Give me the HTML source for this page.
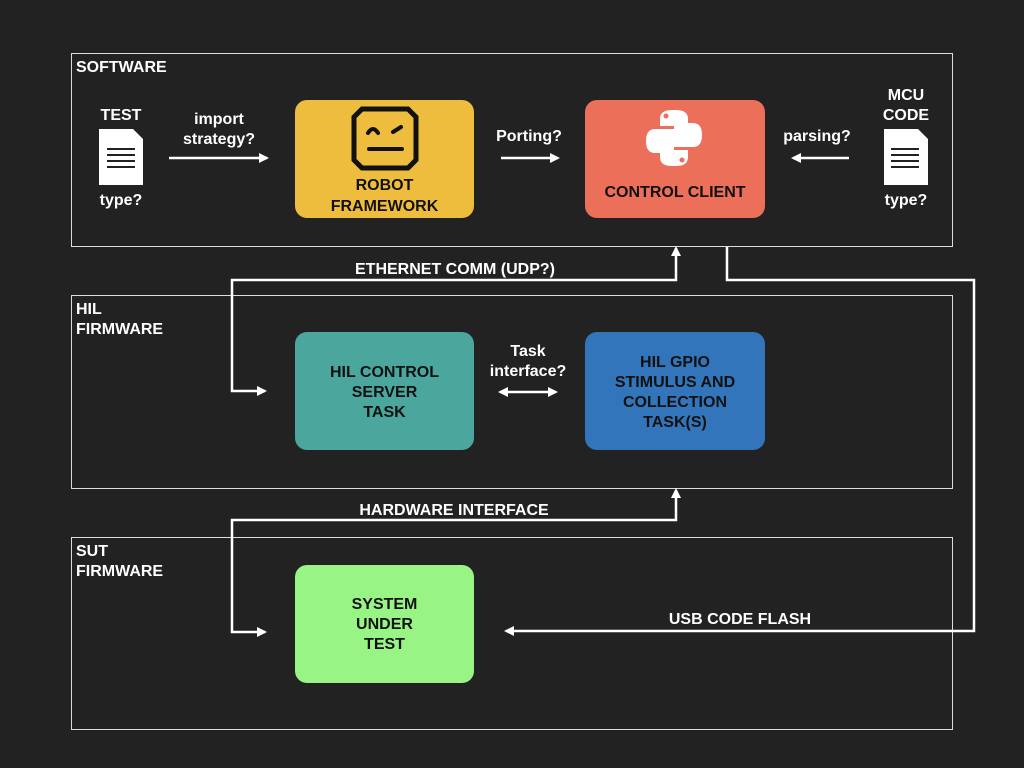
<!DOCTYPE html>
<html><head><meta charset="utf-8"><style>
html,body{margin:0;padding:0;background:#222222;}
svg{display:block}
text{font-family:"Liberation Sans",sans-serif;font-weight:bold;font-size:16px;}
.w{fill:#fff}
.k{fill:#111}
</style></head><body>
<svg width="1024" height="768" viewBox="0 0 1024 768">
<defs>
<marker id="a" markerWidth="10" markerHeight="10" refX="8" refY="5" orient="auto-start-reverse" markerUnits="userSpaceOnUse"><path d="M0,0 L10,5 L0,10 z" fill="#fff"/></marker>
</defs>
<g fill="none" stroke="#ddd" stroke-width="1">
<rect x="71.5" y="53.5" width="881" height="193"/>
<rect x="71.5" y="295.5" width="881" height="193"/>
<rect x="71.5" y="537.5" width="881" height="192"/>
</g>
<text class="w" x="76" y="72">SOFTWARE</text>
<text class="w" x="76" y="314">HIL</text>
<text class="w" x="76" y="334">FIRMWARE</text>
<text class="w" x="76" y="556">SUT</text>
<text class="w" x="76" y="576">FIRMWARE</text>

<rect x="295" y="100" width="179" height="118" rx="12" fill="#EFBD3E"/>
<rect x="585" y="100" width="180" height="118" rx="12" fill="#EC6F5A"/>
<rect x="295" y="332" width="179" height="118" rx="12" fill="#4BA79E"/>
<rect x="585" y="332" width="180" height="118" rx="12" fill="#3375BA"/>
<rect x="295" y="565" width="179" height="118" rx="12" fill="#99F486"/>

<!-- robot icon -->
<path d="M362,109 L408,109 L416,117 L416,160 L408,168 L362,168 L354,160 L354,117 Z" fill="none" stroke="#111" stroke-width="5"/>
<path d="M368,133 Q373,125 378,133" fill="none" stroke="#111" stroke-width="4" stroke-linecap="round"/>
<line x1="393" y1="132" x2="401" y2="127" stroke="#111" stroke-width="4" stroke-linecap="round"/>
<line x1="369" y1="149" x2="402" y2="149" stroke="#111" stroke-width="4" stroke-linecap="round"/>
<text class="k" x="384.5" y="190" text-anchor="middle">ROBOT</text>
<text class="k" x="384.5" y="211" text-anchor="middle">FRAMEWORK</text>

<!-- python icon -->
<path d="M672,110 Q660,110 660,119 L660,126 L674,126 L674,129 L655,129 Q646,129 646,141 Q646,153 655,153 L660,153 L660,146 Q660,139 668,139 L681,139 Q688,139 688,132 L688,119 Q688,110 676,110 Z" fill="#fff"/>
<path d="M676,166 Q688,166 688,157 L688,150 L674,150 L674,147 L693,147 Q702,147 702,135 Q702,123 693,123 L688,123 L688,130 Q688,137 680,137 L667,137 Q660,137 660,144 L660,157 Q660,166 672,166 Z" fill="#fff"/>
<circle cx="666" cy="116" r="2.5" fill="#EC6F5A"/><circle cx="682" cy="160" r="2.5" fill="#EC6F5A"/>
<text class="k" x="675" y="197" text-anchor="middle">CONTROL CLIENT</text>

<text class="k" x="384.5" y="377" text-anchor="middle">HIL CONTROL</text>
<text class="k" x="384.5" y="397" text-anchor="middle">SERVER</text>
<text class="k" x="384.5" y="417" text-anchor="middle">TASK</text>
<text class="k" x="675" y="367" text-anchor="middle">HIL GPIO</text>
<text class="k" x="675" y="387" text-anchor="middle">STIMULUS AND</text>
<text class="k" x="675" y="407" text-anchor="middle">COLLECTION</text>
<text class="k" x="675" y="427" text-anchor="middle">TASK(S)</text>
<text class="k" x="384.5" y="609" text-anchor="middle">SYSTEM</text>
<text class="k" x="384.5" y="629" text-anchor="middle">UNDER</text>
<text class="k" x="384.5" y="649" text-anchor="middle">TEST</text>

<!-- docs -->
<g fill="#fff">
<path d="M99,129 L133,129 L143,139 L143,185 L99,185 Z"/>
<path d="M884,129 L918,129 L928,139 L928,185 L884,185 Z"/>
</g>
<g stroke="#222" stroke-width="2">
<line x1="107" y1="149" x2="135" y2="149"/><line x1="107" y1="155" x2="135" y2="155"/><line x1="107" y1="161" x2="135" y2="161"/><line x1="107" y1="167" x2="135" y2="167"/>
<line x1="891" y1="149" x2="919" y2="149"/><line x1="891" y1="155" x2="919" y2="155"/><line x1="891" y1="161" x2="919" y2="161"/><line x1="891" y1="167" x2="919" y2="167"/>
</g>
<text class="w" x="121" y="120" text-anchor="middle">TEST</text>
<text class="w" x="121" y="205" text-anchor="middle">type?</text>
<text class="w" x="906" y="100" text-anchor="middle">MCU</text>
<text class="w" x="906" y="120" text-anchor="middle">CODE</text>
<text class="w" x="906" y="205" text-anchor="middle">type?</text>

<text class="w" x="219" y="124" text-anchor="middle">import</text>
<text class="w" x="219" y="144" text-anchor="middle">strategy?</text>
<text class="w" x="529" y="141" text-anchor="middle">Porting?</text>
<text class="w" x="817" y="141" text-anchor="middle">parsing?</text>
<text class="w" x="528" y="356" text-anchor="middle">Task</text>
<text class="w" x="528" y="376" text-anchor="middle">interface?</text>
<text class="w" x="455" y="274" text-anchor="middle">ETHERNET COMM (UDP?)</text>
<text class="w" x="454" y="515" text-anchor="middle">HARDWARE INTERFACE</text>
<text class="w" x="740" y="624" text-anchor="middle">USB CODE FLASH</text>

<g stroke="#fff" stroke-width="2.5" fill="none">
<line x1="169" y1="158" x2="267" y2="158" marker-end="url(#a)"/>
<line x1="501" y1="158" x2="558" y2="158" marker-end="url(#a)"/>
<line x1="849" y1="158" x2="793" y2="158" marker-end="url(#a)"/>
<line x1="500" y1="392" x2="556" y2="392" marker-start="url(#a)" marker-end="url(#a)"/>
<polyline points="265,391 232,391 232,280 676,280 676,248" marker-start="url(#a)" marker-end="url(#a)"/>
<polyline points="727,247 727,280 974,280 974,631 506,631" marker-end="url(#a)"/>
<polyline points="265,632 232,632 232,520 676,520 676,490" marker-start="url(#a)" marker-end="url(#a)"/>
</g>
</svg>
</body></html>
